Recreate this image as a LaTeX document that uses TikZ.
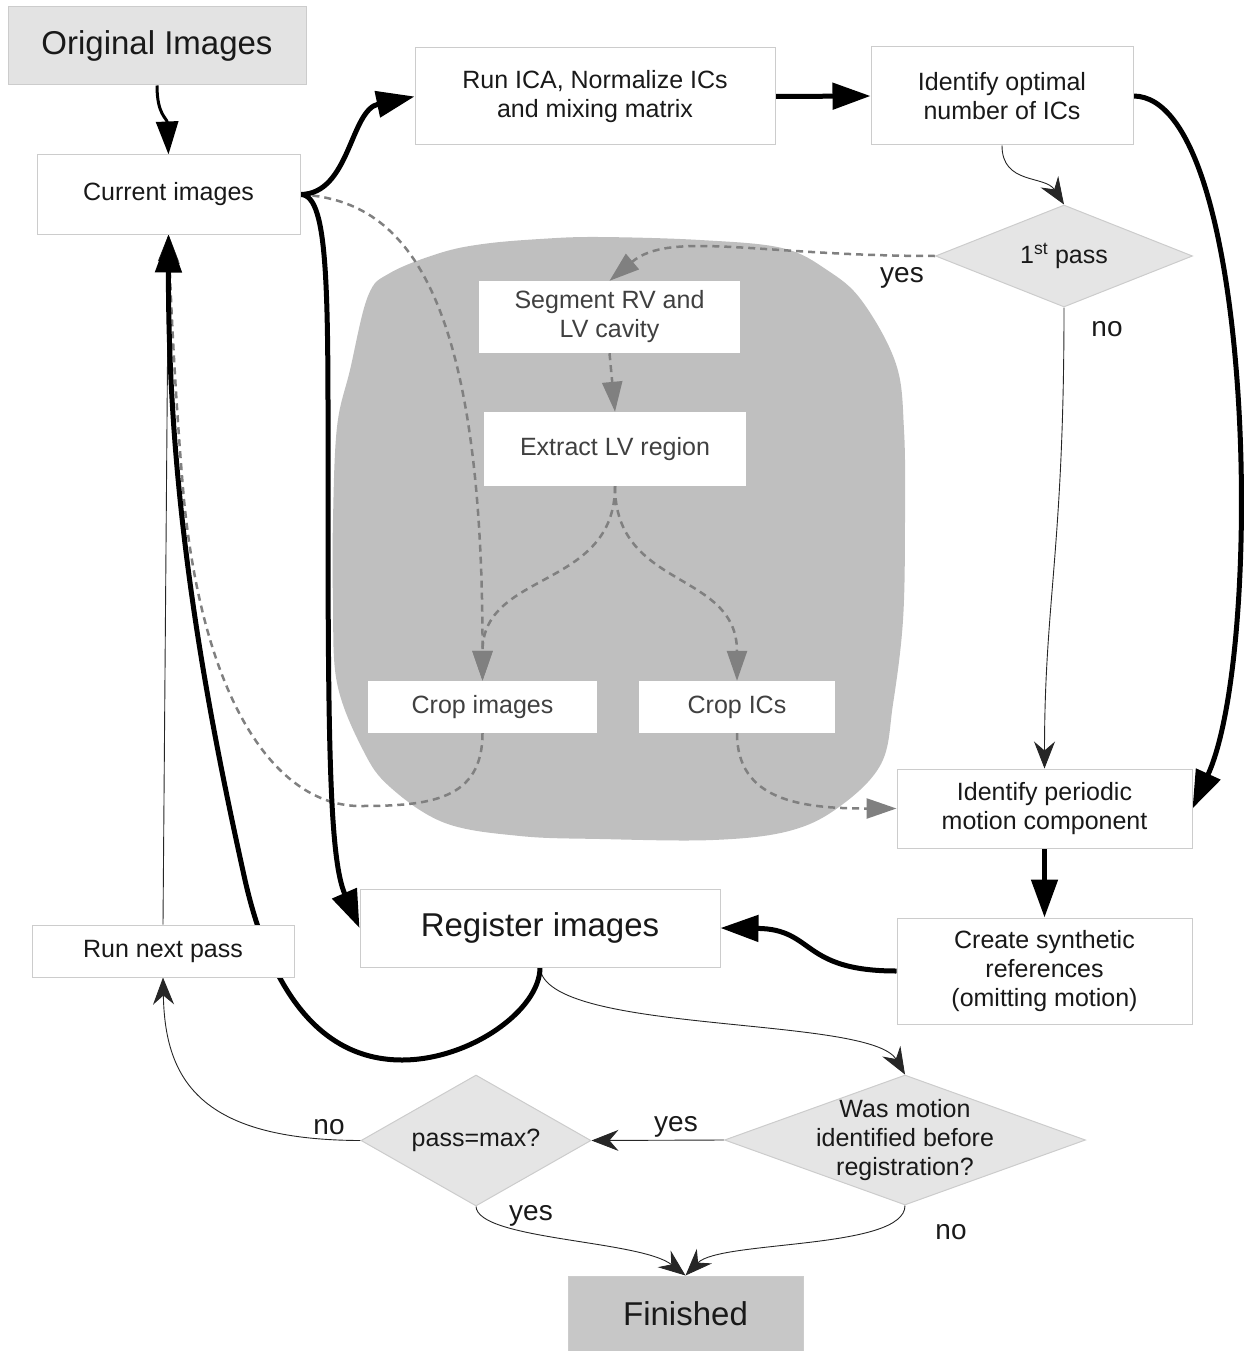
\documentclass[tikz,border=0pt]{standalone}
\usepackage{fontspec}
\setmainfont{Liberation Sans}
\usetikzlibrary{arrows.meta,shapes.geometric}
\pgfdeclarelayer{blob}
\pgfdeclarelayer{edges}
\pgfsetlayers{blob,edges,main}
\begin{document}
\begin{tikzpicture}[x=1pt,y=-1pt,
  box/.style={rectangle, draw=black!20, line width=1pt, fill=white, inner sep=0pt, align=center,
    font=\fontsize{25}{29}\selectfont, text=black!90},
  inbox/.style={rectangle, fill=white, inner sep=0pt, align=center,
    font=\fontsize{25}{29}\selectfont, text=black!75},
  decision/.style={diamond, draw=black!20, fill=black!10, line width=1pt, inner sep=0pt},
  dtext/.style={align=center, inner sep=0pt, font=\fontsize{25}{29}\selectfont, text=black!90},
  lbl/.style={inner sep=0pt, font=\fontsize{28}{32}\selectfont, text=black!90},
  thk/.style={line width=5pt, -{Triangle[length=38pt,width=26pt]}},
  med/.style={line width=3pt, -{Triangle[length=33pt,width=22pt]}},
  thn/.style={line width=0.9pt, black!85, -{Stealth[length=27pt,width=21pt,inset=9pt]}},
  dsh/.style={line width=2.5pt, black!50, dash pattern=on 7pt off 5pt, -{Triangle[length=30pt,width=20pt]}}
]
\useasboundingbox (0,0) rectangle (1245,1351);

% blob
\begin{pgfonlayer}{blob}
\fill[black!25] plot[smooth cycle, tension=0.6] coordinates {
 (440,253) (483,244) (540,239) (598,237) (700,240) (782,248) (827,270) (862,301)
 (896,364) (904,430) (905,520) (903,620) (893,704) (881,764) (839,807) (789,831)
 (713,840) (600,839) (520,836) (445,823) (390,787) (363,750) (337,683) (333,600)
 (333,520) (337,427) (350,370) (368,296) (390,273)};
\end{pgfonlayer}

% nodes
\node[box, fill=black!11, minimum width=298pt, minimum height=78pt, font=\fontsize{33}{38}\selectfont] (orig) at (157,46) {Original Images};
\node[box, minimum width=263pt, minimum height=79pt] (cur) at (168.5,194.5) {Current images};
\node[box, minimum width=360pt, minimum height=97pt] (ica) at (595,96.5) {Run ICA, Normalize ICs\\and mixing matrix};
\node[box, minimum width=262pt, minimum height=98pt] (opt) at (1002,96) {Identify optimal\\number of ICs};
\node[decision, minimum width=257pt, minimum height=102pt] (p1) at (1064,256) {};
\node[dtext] at (p1.center) {1\textsuperscript{st} pass};
\node[inbox, minimum width=261pt, minimum height=72pt] (seg) at (609.5,317) {Segment RV and\\LV cavity};
\node[inbox, minimum width=262pt, minimum height=74pt] (ext) at (615,449) {Extract LV region};
\node[inbox, minimum width=229pt, minimum height=52pt] (cropi) at (482.5,707) {Crop images};
\node[inbox, minimum width=196pt, minimum height=52pt] (cropc) at (737,707) {Crop ICs};
\node[box, minimum width=295pt, minimum height=79pt] (per) at (1044.5,808.5) {Identify periodic\\motion component};
\node[box, minimum width=295pt, minimum height=106pt] (syn) at (1044.5,971) {Create synthetic\\references\\(omitting motion)};
\node[box, minimum width=360pt, minimum height=78pt, font=\fontsize{33}{38}\selectfont] (reg) at (540,928) {Register images};
\node[box, minimum width=262pt, minimum height=52pt] (next) at (163,951) {Run next pass};
\node[decision, minimum width=361pt, minimum height=130pt] (wm) at (905,1140) {};
\node[dtext] at (wm.center) {Was motion\\identified before\\registration?};
\node[decision, minimum width=230pt, minimum height=131pt] (pm) at (476,1140.5) {};
\node[dtext] at (pm.center) {pass=max?};
\node[box, fill=black!22, minimum width=235pt, minimum height=75pt, font=\fontsize{33}{38}\selectfont] (fin) at (685.5,1313.5) {Finished};

% labels
\node[lbl] at (902,278) {yes};
\node[lbl] at (1107,329) {no};
\node[lbl] at (676,1127) {yes};
\node[lbl] at (329,1127) {no};
\node[lbl] at (531,1216) {yes};
\node[lbl] at (951,1232) {no};

% edges
\begin{pgfonlayer}{edges}
% dashed
\draw[dsh] (cur.east) .. controls (400,200) and (483,280) .. (cropi.north);
\draw[dsh] (p1.west) .. controls (760,256) and (670,230) .. (seg.north);
\draw[dsh] (seg.south) -- (ext.north);
\draw[dsh] (ext.south) .. controls (615,590) and (482.5,570) .. (cropi.north);
\draw[dsh] (ext.south) .. controls (615,590) and (737,570) .. (cropc.north);
\draw[dsh] (cropc.south) .. controls (737,800) and (800,808.5) .. (per.west);
\draw[dsh] (cropi.south) .. controls (482.5,800) and (430,806) .. (360,806)
   .. controls (280,806) and (205,710) .. (184,500)
   .. controls (177,420) and (172,330) .. (cur.south);
% thin
\draw[thn] (next.north) -- (cur.south);
\draw[thn] (opt.south) .. controls (1002,185) and (1045,175) .. (p1.north);
\draw[thn] (p1.south) .. controls (1064,550) and (1044.5,600) .. (per.north);
\draw[thn] (reg.south) .. controls (545,1035) and (870,1015) .. (wm.north);
\draw[thn] (wm.west) -- (pm.east);
\draw[thn] (pm.west) .. controls (200,1140) and (165,1080) .. (next.south);
\draw[thn] (pm.south) .. controls (478,1240) and (640,1240) .. (fin.north);
\draw[thn] (wm.south) .. controls (905,1250) and (720,1240) .. (fin.north);
% thick
\draw[med] (orig.south) .. controls (157,115) and (167,118) .. (cur.north);
\draw[thk] (cur.east) .. controls (350,194) and (350,110) .. (ica.west);
\draw[thk] (ica.east) -- (opt.west);
\draw[thk] (opt.east) .. controls (1255,97) and (1265,650) .. (per.east);
\draw[thk] (per.south) -- (syn.north);
\draw[thk] (syn.west) .. controls (800,971) and (815,929) .. (reg.east);
\draw[thk] (cur.east) .. controls (330,194) and (328,300) .. (328,500)
   .. controls (328,750) and (330,860) .. (reg.west);
\draw[thk] (reg.south) .. controls (540,1010) and (470,1060) .. (402,1060)
   .. controls (320,1060) and (270,990) .. (245,880)
   .. controls (205,700) and (168,500) .. (cur.south);
\end{pgfonlayer}
\end{tikzpicture}
\end{document}
